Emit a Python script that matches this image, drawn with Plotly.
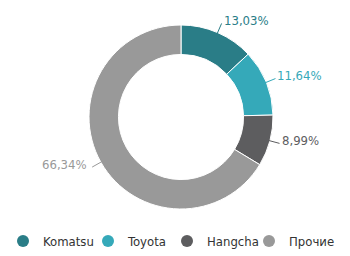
import math
import plotly.graph_objects as go

labels = ["Komatsu", "Toyota", "Hangcha", "Прочие"]
values = [13.03, 11.64, 8.99, 66.34]
colors = ["#2a7d87", "#35a9b9", "#5d5d5f", "#999999"]
text_labels = ["13,03%", "11,64%", "8,99%", "66,34%"]
legend_widths = [40, 34, 37, None]

FONT = "DejaVu Sans Condensed, Liberation Sans Narrow, Roboto, sans-serif"
W, H = 350, 256
CX, CY, R = 181, 117, 92  # pie centre / radius in px

fig = go.Figure()
fig.add_trace(go.Pie(
    labels=labels, values=values, sort=False, direction="clockwise", rotation=0,
    hole=0.68, marker=dict(colors=colors, line=dict(color="white", width=1)),
    textinfo="none", showlegend=False, hoverinfo="skip",
    domain=dict(x=[(CX - R) / W, (CX + R) / W], y=[1 - (CY + R) / H, 1 - (CY - R) / H]),
))
for lab, col, lw in zip(labels, colors, legend_widths):
    tr = go.Scatter(x=[None], y=[None], mode="markers", name=lab,
                    marker=dict(symbol="circle", size=15, color=col))
    if lw:
        tr.legendwidth = lw
    fig.add_trace(tr)

# leader lines + outside labels derived from slice mid-angles
total = sum(values)
cum = 0
shapes, annots = [], []
for v, col, t in zip(values, colors, text_labels):
    mid = (cum + v / 2) / total * 2 * math.pi
    cum += v
    s, c = math.sin(mid), math.cos(mid)
    x0, y0 = CX + (R - 1) * s, CY - (R - 1) * c
    x1, y1 = CX + (R + 10) * s, CY - (R + 10) * c
    shapes.append(dict(type="line", xref="paper", yref="paper",
                       x0=x0 / W, y0=1 - y0 / H, x1=x1 / W, y1=1 - y1 / H,
                       line=dict(color=col, width=1)))
    right = s >= 0
    annots.append(dict(xref="paper", yref="paper", x=(x1 + (0 if right else -3)) / W,
                       y=1 - (y1 - 3) / H, text=t, showarrow=False,
                       xanchor="left" if right else "right", yanchor="middle",
                       font=dict(family=FONT, size=13, color=col)))

fig.update_layout(
    width=W, height=H, margin=dict(l=0, r=0, t=0, b=0),
    paper_bgcolor="white", plot_bgcolor="white",
    xaxis=dict(visible=False), yaxis=dict(visible=False),
    shapes=shapes, annotations=annots,
    legend=dict(orientation="h", x=3 / W, xanchor="left", y=15 / H, yanchor="middle",
                font=dict(family=FONT, size=13, color="#333333"),
                itemwidth=30, tracegroupgap=0, itemsizing="constant"),
)
fig.write_html("out.html")
